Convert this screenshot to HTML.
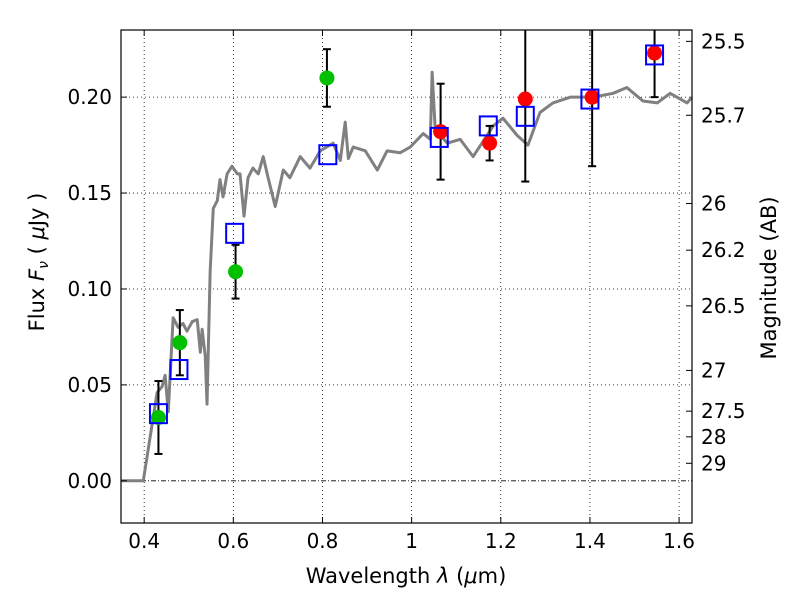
<!DOCTYPE html>
<html><head><meta charset="utf-8"><style>
body{margin:0;background:#fff}
svg text{font-family:"DejaVu Sans","Liberation Sans",sans-serif;font-size:20px;fill:#000}
</style></head><body>
<svg id="c" width="800" height="600" xmlns="http://www.w3.org/2000/svg"></svg>
<script>
const specLam=[0.348,0.398,0.429,0.440,0.447,0.454,0.465,0.476,0.487,0.496,0.508,0.519,0.526,0.530,0.537,0.541,0.548,0.555,0.564,0.570,0.577,0.586,0.597,0.609,0.615,0.624,0.633,0.644,0.656,0.667,0.678,0.694,0.712,0.727,0.750,0.772,0.795,0.824,0.840,0.851,0.858,0.869,0.896,0.923,0.945,0.974,0.997,1.026,1.042,1.046,1.053,1.080,1.109,1.138,1.183,1.205,1.237,1.261,1.288,1.317,1.356,1.407,1.452,1.483,1.519,1.551,1.580,1.618,1.629];
const specFlux=[0,0,0.046,0.049,0.055,0.036,0.085,0.080,0.082,0.078,0.083,0.084,0.067,0.079,0.065,0.040,0.109,0.142,0.146,0.157,0.148,0.160,0.164,0.160,0.160,0.138,0.158,0.163,0.160,0.169,0.158,0.143,0.162,0.158,0.169,0.163,0.172,0.176,0.167,0.187,0.168,0.174,0.172,0.162,0.172,0.171,0.174,0.181,0.178,0.213,0.183,0.176,0.178,0.169,0.185,0.189,0.180,0.175,0.192,0.197,0.200,0.200,0.202,0.205,0.198,0.197,0.202,0.197,0.200];
const greenLam=[0.432,0.480,0.605,0.810];
const greenFlux=[0.033,0.072,0.109,0.210];
const greenErr=[0.019,0.017,0.014,0.015];
const redLam=[1.065,1.175,1.255,1.405,1.545];
const redFlux=[0.182,0.176,0.199,0.200,0.223];
const redErr=[0.025,0.009,0.043,0.036,0.023];
const boxLam=[0.432,0.478,0.603,0.812,1.062,1.172,1.255,1.400,1.545];
const boxFlux=[0.035,0.058,0.129,0.170,0.179,0.185,0.190,0.199,0.222];
const xTicks=[0.4,0.6,0.8,1.0,1.2,1.4,1.6];
const xTickLabels=["0.4","0.6","0.8","1","1.2","1.4","1.6"];
const yTicks=[0,0.05,0.10,0.15,0.20];
const yTickLabels=["0.00","0.05","0.10","0.15","0.20"];
const magTicks=[25.5,25.7,26,26.2,26.5,27,27.5,28,29];
const magLabels=["25.5","25.7","26","26.2","26.5","27","27.5","28","29"];

const L=121,R=692,T=30,B=523,x0=0.348,x1=1.629,y0=-0.022,y1=0.235;
const X=v=>L+(v-x0)/(x1-x0)*(R-L);
const Y=v=>B-(v-y0)/(y1-y0)*(B-T);
const svg=document.getElementById('c');
const NS='http://www.w3.org/2000/svg';
function mk(tag,attrs,parent){const e=document.createElementNS(NS,tag);for(const k in attrs)e.setAttribute(k,attrs[k]);(parent||svg).appendChild(e);return e;}

const grid=mk('g',{});


xTicks.forEach(v=>{mk('line',{x1:X(v),x2:X(v),y1:T,y2:B,stroke:'#000','stroke-width':0.8,'stroke-dasharray':'1,3'},grid);});
yTicks.forEach(v=>{if(v!==0)mk('line',{x1:L,x2:R,y1:Y(v),y2:Y(v),stroke:'#000','stroke-width':0.8,'stroke-dasharray':'1,3'},grid);});
const zl=mk('line',{x1:L,x2:R,y1:Y(0),y2:Y(0),stroke:'#000','stroke-width':0.8,'stroke-dasharray':'5,2,1,2'});



const sp=mk('polyline',{points:specLam.map((l,i)=>X(l)+','+Y(specFlux[i])).join(' '),fill:'none',stroke:'#808080','stroke-width':3,'stroke-linejoin':'round'});



function errbar(l,f,e,name){
  const g=mk('g',{stroke:'#000','stroke-width':2});
  
  
  const x=X(l),a=Math.max(Y(f+e),T),b=Y(f-e);
  mk('line',{x1:x,x2:x,y1:a,y2:b},g);
  if(Y(f+e)>=T)mk('line',{x1:x-4,x2:x+4,y1:a,y2:a},g);
  mk('line',{x1:x-4,x2:x+4,y1:b,y2:b},g);
}
greenLam.forEach((l,i)=>errbar(l,greenFlux[i],greenErr[i],'green-errorbar'));
redLam.forEach((l,i)=>errbar(l,redFlux[i],redErr[i],'red-errorbar'));
greenLam.forEach((l,i)=>{const c=mk('circle',{cx:X(l),cy:Y(greenFlux[i]),r:7.5,fill:'#00c000'});

});
redLam.forEach((l,i)=>{const c=mk('circle',{cx:X(l),cy:Y(redFlux[i]),r:7.5,fill:'#ff0000'});

});
boxLam.forEach((l,i)=>{const r=mk('rect',{x:X(l)-8.5,y:Y(boxFlux[i])-9.5,width:17,height:19,fill:'none',stroke:'#0000ff','stroke-width':2});

});

const fr=mk('rect',{x:L,y:T,width:R-L,height:B-T,fill:'none',stroke:'#000','stroke-width':1.2});



xTicks.forEach((v,i)=>{
  mk('line',{x1:X(v),x2:X(v),y1:B,y2:B-6,stroke:'#000'});mk('line',{x1:X(v),x2:X(v),y1:T,y2:T+6,stroke:'#000'});
  const t=mk('text',{x:X(v),y:B+25,'text-anchor':'middle'});t.textContent=xTickLabels[i];
  
  
});
yTicks.forEach((v,i)=>{
  mk('line',{x1:L,x2:L+6,y1:Y(v),y2:Y(v),stroke:'#000'});
  const t=mk('text',{x:L-9,y:Y(v)+7,'text-anchor':'end'});t.textContent=yTickLabels[i];
  
  
});
magTicks.forEach((m,i)=>{
  const f=Math.pow(10,(23.9-m)/2.5);
  mk('line',{x1:R,x2:R-6,y1:Y(f),y2:Y(f),stroke:'#000'});
  const t=mk('text',{x:R+9,y:Y(f)+7});t.textContent=magLabels[i];
  
  
});
</script>
<svg width="800" height="600" style="position:absolute;left:0;top:0" xmlns="http://www.w3.org/2000/svg">
<text x="406" y="583" text-anchor="middle" style="font-family:'DejaVu Sans',sans-serif;font-size:21px">Wavelength  <tspan font-style="italic">λ</tspan> (<tspan font-style="italic">μ</tspan>m)</text>
<text transform="translate(44,262) rotate(-90)" text-anchor="middle" style="font-family:'DejaVu Sans',sans-serif;font-size:21px">Flux  <tspan font-style="italic">F</tspan><tspan font-style="italic" font-size="14" dy="4">ν</tspan><tspan dy="-4">  ( </tspan><tspan font-style="italic">μ</tspan>Jy )</text>
<text transform="translate(776,278) rotate(-90)" text-anchor="middle" style="font-family:'DejaVu Sans',sans-serif;font-size:21px">Magnitude (AB)</text>
</svg>
</body></html>
